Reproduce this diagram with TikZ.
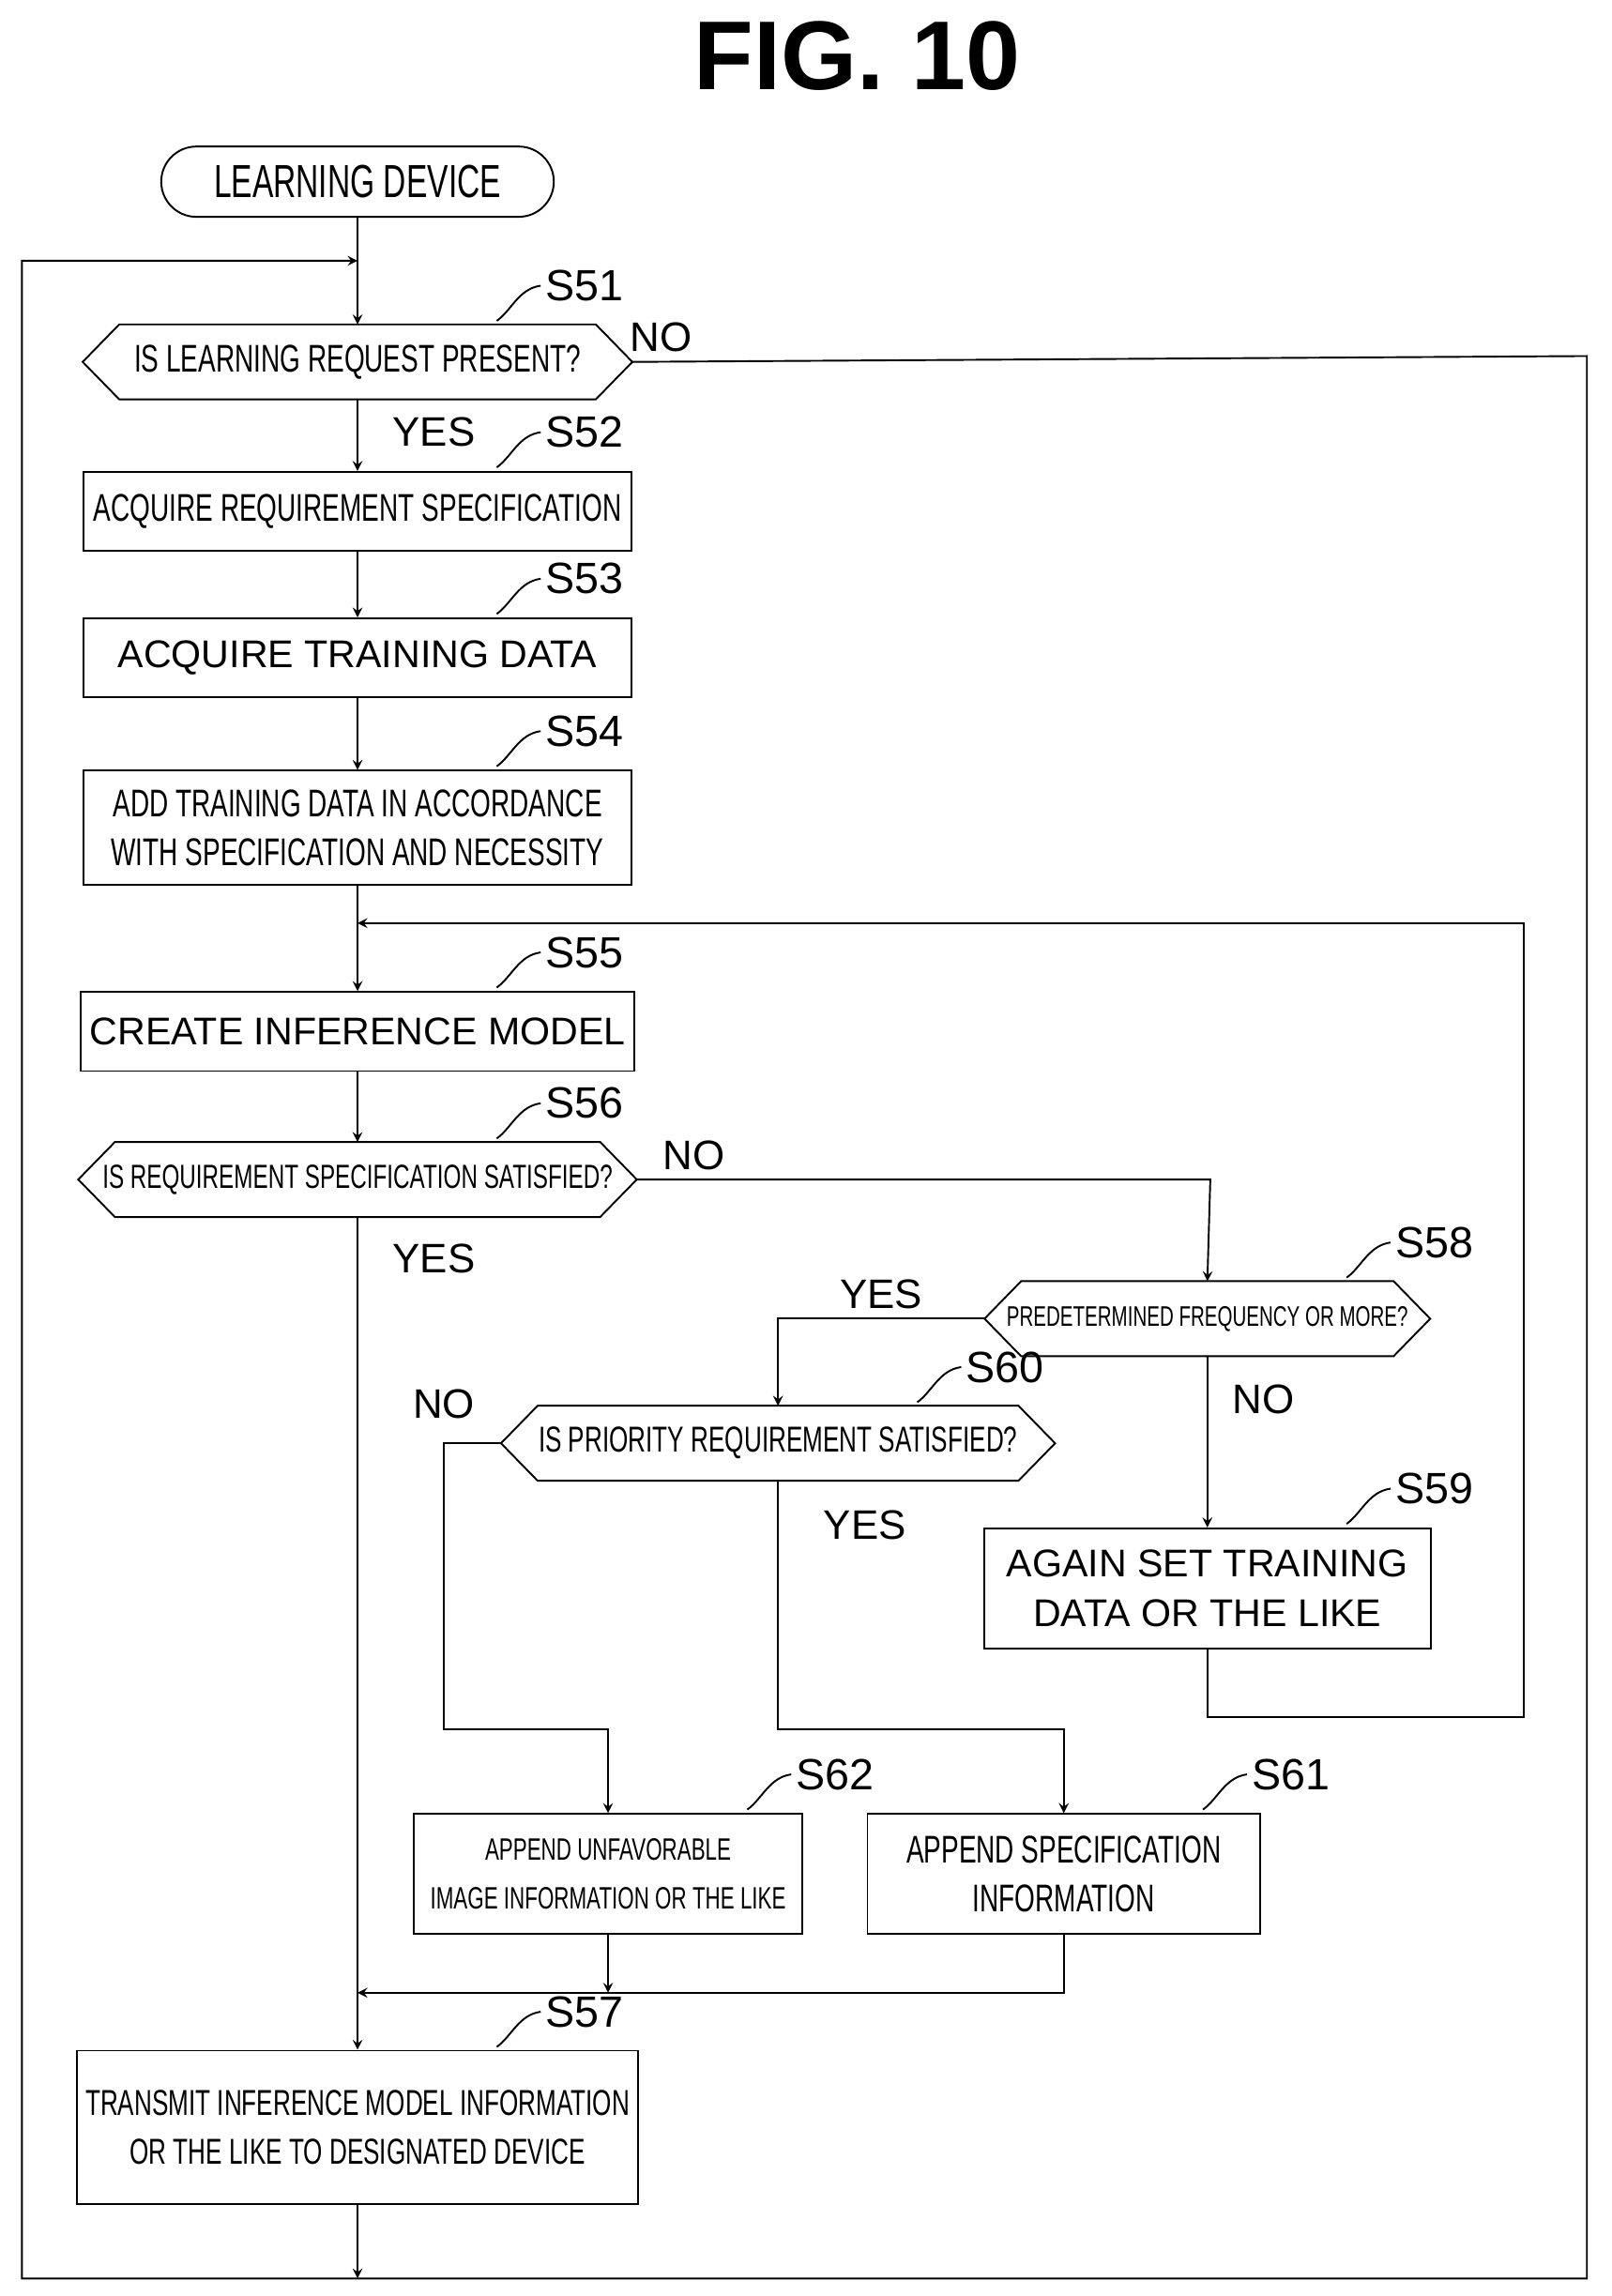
\documentclass[tikz,border=0pt]{standalone}
\usepackage{fontspec}
\setmainfont{Liberation Sans}
\newfontfamily\narrowfont[FakeStretch=0.68]{Liberation Sans}
\usetikzlibrary{positioning}
\begin{document}
\begin{tikzpicture}[x=0.02cm,y=-0.02cm, line width=0.7pt, >=stealth]
    % Styles
    \tikzstyle{proc} = [rectangle, draw, minimum width=7.48cm, minimum height=1.08cm, align=center, font=\fontsize{15}{19}\selectfont]
    \tikzstyle{cond} = [rectangle, minimum height=1cm, inner sep=0pt, font=\narrowfont\fontsize{15}{18}\selectfont]
    \tikzstyle{steplbl} = [font=\fontsize{17}{20}\selectfont, anchor=west]
    \tikzstyle{yn} = [font=\fontsize{16}{20}\selectfont]
    \useasboundingbox (0,0) rectangle (1100,1567);

    \node[font=\bfseries\fontsize{38}{44}\selectfont] (title) at (585,38) {FIG. 10};

    % Nodes
    \node[rectangle, rounded corners=0.48cm, draw, minimum width=5.36cm, minimum height=0.96cm, font=\narrowfont\fontsize{18}{20}\selectfont] (start) at (244,124) {LEARNING DEVICE};
    \node[cond, minimum width=7.48cm] (s51) at (244,247) {IS LEARNING REQUEST PRESENT?};
    \node[proc, font=\narrowfont\fontsize{15}{19}\selectfont] (s52) at (244,349) {ACQUIRE REQUIREMENT SPECIFICATION};
    \node[proc] (s53) at (244,449) {ACQUIRE TRAINING DATA};
    \node[proc, minimum height=1.56cm, font=\narrowfont\fontsize{15}{19}\selectfont] (s54) at (244,565) {ADD TRAINING DATA IN ACCORDANCE\\WITH SPECIFICATION AND NECESSITY};
    \node[proc] (s55) at (244,704) {CREATE INFERENCE MODEL};
    \node[cond, minimum width=7.6cm, font=\narrowfont\fontsize{13}{18}\selectfont] (s56) at (244,805) {IS REQUIREMENT SPECIFICATION SATISFIED?};
    \node[cond, minimum width=6.06cm, font=\narrowfont\fontsize{11}{18}\selectfont] (s58) at (824,900) {PREDETERMINED FREQUENCY OR MORE?};
    \node[cond, minimum width=7.54cm, font=\narrowfont\fontsize{14}{18}\selectfont] (s60) at (531,985) {IS PRIORITY REQUIREMENT SATISFIED?};
    \node[proc, minimum width=6.1cm, minimum height=1.64cm] (s59) at (824,1084) {AGAIN SET TRAINING\\DATA OR THE LIKE};
    \node[proc, minimum width=5.3cm, minimum height=1.64cm, font=\narrowfont\fontsize{12}{19}\selectfont] (s62) at (415,1279) {APPEND UNFAVORABLE\\IMAGE INFORMATION OR THE LIKE};
    \node[proc, minimum width=5.36cm, minimum height=1.64cm, font=\narrowfont\fontsize{15}{19}\selectfont] (s61) at (726,1279) {APPEND SPECIFICATION\\INFORMATION};
    \node[proc, minimum height=2.1cm, font=\narrowfont\fontsize{14}{19}\selectfont] (s57) at (244,1452) {TRANSMIT INFERENCE MODEL INFORMATION\\OR THE LIKE TO DESIGNATED DEVICE};

    % Hexagon outlines
    \foreach \n in {s51, s56, s58, s60}
        \draw (\n.west) -- ([xshift=0.5cm]\n.north west) -- ([xshift=-0.5cm]\n.north east) -- (\n.east) -- ([xshift=-0.5cm]\n.south east) -- ([xshift=0.5cm]\n.south west) -- cycle;

    % Step labels
    \foreach \n/\x/\y in {51/244/222, 52/244/322, 53/244/422, 54/244/526, 55/244/677, 56/244/780, 57/244/1400, 58/824/875, 60/531/960, 59/824/1043, 62/415/1238, 61/726/1238} {
        \draw (\x+95,\y-3) .. controls (\x+105,\y-10) and (\x+110,\y-25) .. (\x+125,\y-27);
        \node[steplbl] at (\x+122,\y-27) {S\n};
    }

    % Coordinates
    \coordinate (top) at (244,178);
    \coordinate (bot) at (244,1555);
    \coordinate (loop) at (244,630);
    \coordinate (merge) at (244,1360);

    % Arrows
    \draw[->] (start) -- (s51);
    \draw[->] (s51) -- node[yn, right=10pt, pos=0.45] {YES} (s52);
    \draw[->] (s52) -- (s53);
    \draw[->] (s53) -- (s54);
    \draw (s54) -- (loop);
    \draw[->] (loop) -- (s55);
    \draw[->] (s55) -- (s56);
    \draw[->] (s56) -- node[yn, right=10pt, pos=0.05] {YES} (s57);
    \draw[->] (s57) -- (bot);
    \draw[->] (s56.east) -- node[yn, above, pos=0.1] {NO} (826,805) -- (s58.north);
    \draw[->] (s58.west) -- node[yn, above, pos=0.5] {YES} (531,900) -- (s60.north);
    \draw[->] (s58) -- node[yn, right=6pt, pos=0.25] {NO} (s59);
    \draw[->] (s60.west) -- (303,985) node[yn, above=6pt] {NO} -- (303,1180) -- (415,1180) -- (s62.north);
    \draw[->] (s60.south) -- node[yn, right=14pt, pos=0.18] {YES} (531,1180) -- (726,1180) -- (s61.north);
    \draw[->] (s59.south) -- (824,1172) -- (1040,1172) -- (1040,630) -- (loop);
    \draw[->] (s62.south) -- (415,1360);
    \draw[->] (s61.south) -- (726,1360) -- (merge);
    \draw[->] (s51.east) -- node[yn, above, pos=0.03] {NO} (1083,243) -- (1083,1555) -- (15,1555) -- (15,178) -- (top);
\end{tikzpicture}
\end{document}
